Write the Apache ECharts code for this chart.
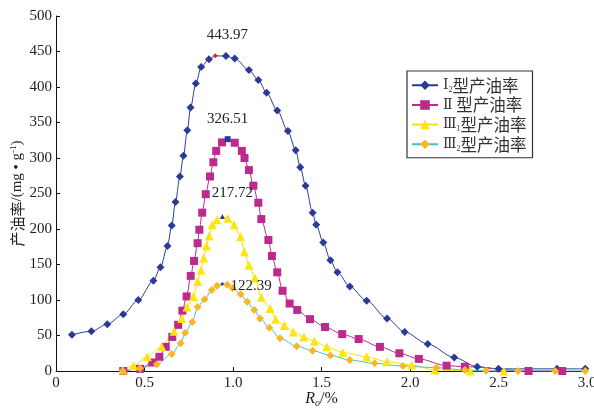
<!DOCTYPE html>
<html><head><meta charset="utf-8">
<script src="https://cdn.jsdelivr.net/npm/echarts@6/dist/echarts.min.js"></script>
<style>html,body{margin:0;padding:0;background:#fff}#c{width:594px;height:412px}</style>
</head><body><div id="c"></div>
<script>
// Series I2
const xI2 = [0.09,0.20,0.29,0.38,0.465,0.55,0.59,0.63,0.654,0.675,0.70,0.72,0.742,0.76,0.79,0.82,0.864,0.90,0.96,1.01,1.09,1.143,1.19,1.25,1.31,1.354,1.38,1.41,1.45,1.47,1.51,1.55,1.59,1.66,1.755,1.87,1.97,2.10,2.25,2.38,2.50,2.83,2.99];
const yI2 = [51,56,66,80,100,127,146,176,205,238,274,303,339,371,405,428,439,443.97,443.5,440,424,410,392,367,338,311,287,261,223,206,181,156,139,119,99,74,55,38,19,6,3,3,3];
// Series II
const xII = [0.38,0.475,0.544,0.584,0.62,0.657,0.69,0.714,0.738,0.761,0.78,0.80,0.81,0.826,0.846,0.87,0.889,0.905,0.938,0.97,1.01,1.05,1.065,1.09,1.115,1.143,1.16,1.20,1.22,1.25,1.28,1.32,1.363,1.435,1.52,1.617,1.71,1.83,1.94,2.05,2.207,2.31,2.67,2.86];
const yII = [0,3,12,20,34,48,65,85,105,134,155,180,199,223,249,274,294,310,322,326.51,321.5,310,300,283,261,237,214,184.5,162,139,113,95,86,73,62,52,45,34,25,17,7.5,6,0,0];
// Series III1
const xIII1 = [0.377,0.437,0.516,0.597,0.667,0.71,0.74,0.776,0.80,0.82,0.835,0.85,0.866,0.883,0.91,0.94,0.97,1.006,1.043,1.064,1.09,1.124,1.16,1.21,1.24,1.29,1.34,1.40,1.46,1.53,1.62,1.755,1.87,2.01,2.14,2.34,2.53];
const yIII1 = [1.4,7.5,20,34,56,74,90,105,126,142,159,176,190,206,213,217.72,215,206,189,168,149,131,104,88,73,64,55,48,42,34,26,20,13,8.5,1.4,0,0];
// Series III2
const xIII2 = [0.377,0.475,0.57,0.654,0.704,0.73,0.77,0.80,0.84,0.88,0.91,0.94,0.968,0.998,1.043,1.08,1.12,1.153,1.205,1.266,1.36,1.45,1.55,1.66,1.80,1.96,2.15,2.31,2.43,2.61,2.82,2.99];
const yIII2 = [0,4,9.4,24,39,54,69,90,101,114,120,122.39,121.5,116.5,108,97.6,86,74,61,46,35,28.6,22,15.5,10.8,7,4.6,1.4,0.4,0,0,0];

const seriesNames = ['I2','II','III1','III2'];
const legendText = {
  'I2': '{n|Ⅰ}{s|2}{t|型产油率}',
  'II': '{n|Ⅱ}{t| 型产油率}',
  'III1': '{n|Ⅲ}{s|1}{t|型产油率}',
  'III2': '{n|Ⅲ}{s|2}{t|型产油率}'
};

function build(xs, ys, peakColor, peakSize, labelOffset, labelPos) {
  let pi = 0;
  ys.forEach((v,i)=>{ if (v > ys[pi]) pi = i; });
  return xs.map((x,i)=>{
    if (i !== pi) return [x, ys[i]];
    return {
      value: [x, ys[i]],
      symbolSize: peakSize,
      itemStyle: {color: peakColor},
      label: {show: true, position: labelPos, offset: labelOffset,
        formatter: p => p.value[1].toFixed(2),
        fontFamily: 'Liberation Serif', fontSize: 15, color: '#222'}
    };
  });
}

const serif = 'Liberation Serif';
const chart = echarts.init(document.getElementById('c'), null, {renderer:'canvas'});
chart.setOption({
  animation: false,
  backgroundColor: '#fff',
  grid: {left: 56, right: 7, top: 16, bottom: 41, containLabel: false, outerBoundsMode: 'none'},
  legend: {
    data: seriesNames,
    orient: 'vertical',
    left: 407, top: 71,
    padding: [6, 6, 5, 4],
    itemWidth: 26, itemHeight: 12, itemGap: 3,
    borderColor: '#333', borderWidth: 1.2,
    formatter: n => legendText[n],
    textStyle: {
      rich: {
        n: {fontFamily: 'DejaVu Serif', fontSize: 14, color: '#333', lineHeight: 17},
        s: {fontFamily: serif, fontSize: 8, color: '#333', verticalAlign: 'bottom', padding: [8,0,0,0], lineHeight: 17},
        t: {fontFamily: 'Noto Sans CJK SC', fontSize: 16.5, color: '#333', lineHeight: 17}
      }
    }
  },
  xAxis: {
    type: 'value', min: 0, max: 3, interval: 0.5,
    name: '{i|R}{sub|o}{l|/%}', nameLocation: 'middle', nameGap: 19, nameMoveOverlap: false,
    nameTextStyle: {rich: {
      i: {fontFamily: serif, fontStyle: 'italic', fontSize: 16, color: '#222'},
      sub: {fontFamily: serif, fontStyle: 'italic', fontSize: 10, color: '#222', verticalAlign: 'bottom', padding: [8,0,0,0]},
      l: {fontFamily: serif, fontSize: 16, color: '#222'}
    }},
    axisLine: {lineStyle: {color: '#111', width: 1}},
    axisTick: {inside: true, length: 4, lineStyle: {color: '#111'}},
    splitLine: {show: false},
    axisLabel: {margin: 5, fontFamily: serif, fontSize: 15, color: '#222',
      formatter: v => v === 0 ? '0' : v.toFixed(1)}
  },
  yAxis: {
    type: 'value', min: 0, max: 500, interval: 50,
    name: '{c|产油率}{l|/(mg • g}{sup|-1}{l|)}', nameLocation: 'middle', nameRotate: 90, nameGap: 30, nameMoveOverlap: false,
    nameTextStyle: {rich: {
      c: {fontFamily: 'Noto Sans CJK SC', fontSize: 15, color: '#222'},
      l: {fontFamily: serif, fontSize: 15, color: '#222'},
      sup: {fontFamily: serif, fontSize: 9, color: '#222', verticalAlign: 'top', padding: [0,0,8,0]}
    }},
    axisLine: {show: true, lineStyle: {color: '#111', width: 1}},
    axisTick: {show: true, inside: true, length: 4, lineStyle: {color: '#111'}},
    splitLine: {show: false},
    axisLabel: {margin: 4, fontFamily: serif, fontSize: 15, color: '#222'}
  },
  series: [
    {name: 'I2', type: 'line', smooth: 0.3, smoothMonotone: 'x',
     symbol: 'diamond', symbolSize: 8,
     itemStyle: {color: '#2B3A97'}, lineStyle: {color: '#2B3A97', width: 1},
     data: build(xI2, yI2, '#E8202A', 5, [12, -6], 'top')},
    {name: 'II', type: 'line', smooth: 0.3, smoothMonotone: 'x',
     symbol: 'rect', symbolSize: 8,
     itemStyle: {color: '#BC2A8D'}, lineStyle: {color: '#BC2A8D', width: 1},
     data: build(xII, yII, '#2B3A97', 6, [0, -5], 'top')},
    {name: 'III1', type: 'line', smooth: 0.3, smoothMonotone: 'x',
     symbol: 'triangle', symbolSize: 9,
     itemStyle: {color: '#FFE414'}, lineStyle: {color: '#F5E200', width: 1},
     data: build(xIII1, yIII1, '#2B3A97', 5, [10, -8], 'top')},
    {name: 'III2', type: 'line', smooth: 0.3, smoothMonotone: 'x',
     symbol: 'diamond', symbolSize: 8,
     itemStyle: {color: '#F9B822'}, lineStyle: {color: '#3CC6C8', width: 1},
     data: build(xIII2, yIII2, '#2B3A97', 4, [1, 2], 'right')}
  ]
});
</script>
</body></html>
